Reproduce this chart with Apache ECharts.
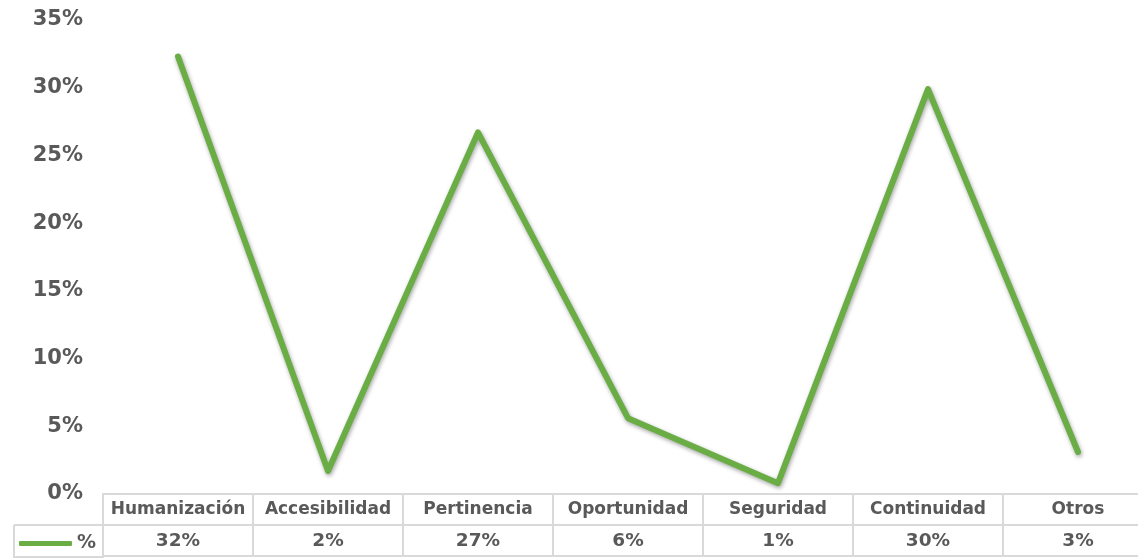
<!DOCTYPE html>
<html>
<head>
<meta charset="utf-8">
<script src="https://cdn.jsdelivr.net/npm/echarts@6/dist/echarts.min.js"></script>
<style>html,body{margin:0;padding:0;background:#fff}#c{width:1138px;height:558px}</style>
</head>
<body>
<div id="c"></div>
<script>
const categories = ['Humanización','Accesibilidad','Pertinencia','Oportunidad','Seguridad','Continuidad','Otros'];
const values = [32.3, 1.7, 26.7, 5.6, 0.8, 29.9, 3.1];
const seriesName = '%';
const yTicks = [0, 5, 10, 15, 20, 25, 30, 35];

const FONT = '"DejaVu Sans", Verdana, sans-serif';
const TXT = '#595959';
const BORDER = '#d9d9d9';
const GREEN = '#6AAD45';

const chart = echarts.init(document.getElementById('c'));
chart.setOption({
  animation: false,
  backgroundColor: '#fff',
  grid: { left: 103, right: -15, top: 20, bottom: 64, containLabel: false, outerBoundsMode: 'none' },
  legend: {
    data: [seriesName], left: 14, top: 529, itemWidth: 53, itemHeight: 5, itemGap: 2,
    icon: 'roundRect',
    textStyle: { fontFamily: FONT, fontWeight: 'bold', fontSize: 19, color: TXT }
  },
  xAxis: [
    {
      type: 'category', data: categories, position: 'bottom', boundaryGap: true,
      axisLine: { show: true, lineStyle: { color: BORDER, width: 2 } },
      axisTick: { show: true, length: 62, lineStyle: { color: BORDER, width: 2 } },
      axisLabel: { margin: 7, fontFamily: FONT, fontWeight: 'bold', fontSize: 17, color: TXT, interval: 0 },
      splitLine: { show: false }
    },
    {
      type: 'category', data: categories, position: 'bottom', offset: 31, boundaryGap: true,
      axisLine: { show: true, lineStyle: { color: BORDER, width: 2 } },
      axisTick: { show: false },
      axisLabel: { margin: 7, fontFamily: FONT, fontWeight: 'bold', fontSize: 18.5, color: TXT, interval: 0,
        formatter: (v, i) => Math.round(values[i]) + '%' },
      splitLine: { show: false }
    },
    {
      type: 'category', data: categories, position: 'bottom', offset: 62, boundaryGap: true,
      axisLine: { show: true, lineStyle: { color: BORDER, width: 2 } },
      axisTick: { show: false }, axisLabel: { show: false }, splitLine: { show: false }
    }
  ],
  yAxis: {
    type: 'value', min: yTicks[0], max: yTicks[yTicks.length - 1], interval: 5,
    axisLine: { show: false }, axisTick: { show: false }, splitLine: { show: false },
    axisLabel: { margin: 20, fontFamily: FONT, fontWeight: 'bold', fontSize: 21, color: TXT, formatter: '{value}%' }
  },
  graphic: [
    { type: 'line', shape: { x1: 14, y1: 525, x2: 104, y2: 525 }, style: { stroke: BORDER, lineWidth: 2 } },
    { type: 'line', shape: { x1: 14, y1: 557, x2: 104, y2: 557 }, style: { stroke: BORDER, lineWidth: 2 } },
    { type: 'line', shape: { x1: 14, y1: 525, x2: 14, y2: 558 }, style: { stroke: BORDER, lineWidth: 2 } }
  ],
  series: [{
    name: seriesName, type: 'line', data: values, symbol: 'none', xAxisIndex: 0,
    itemStyle: { color: GREEN },
    lineStyle: { color: GREEN, width: 6, cap: 'round', join: 'round',
      shadowColor: 'rgba(0,0,0,0.35)', shadowBlur: 4, shadowOffsetX: 1, shadowOffsetY: 2 }
  }]
});
</script>
</body>
</html>
